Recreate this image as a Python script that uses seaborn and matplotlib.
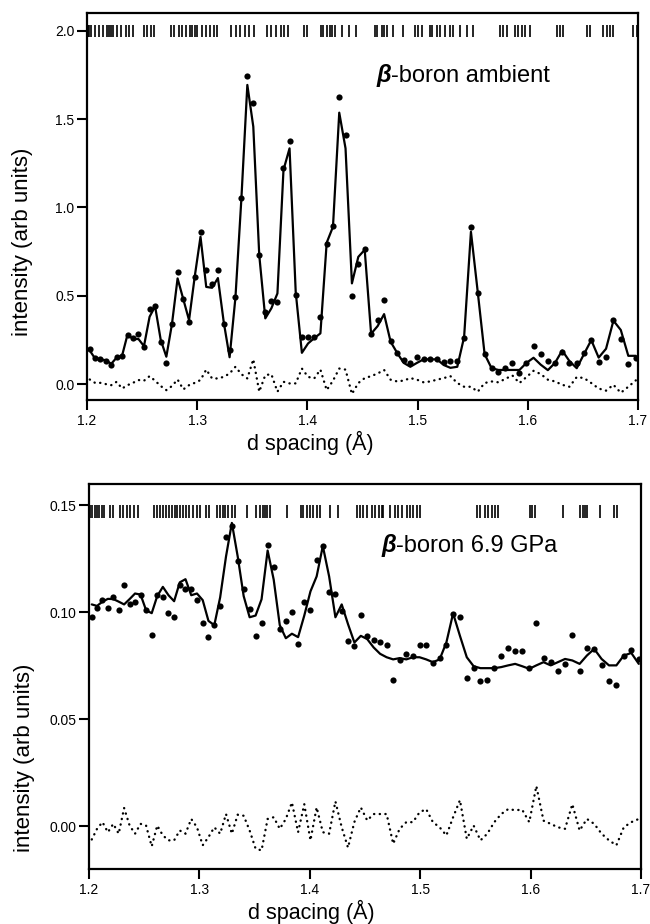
import numpy as np
import pandas as pd
import matplotlib
matplotlib.use("Agg")
import matplotlib.pyplot as plt
import seaborn as sns

# d spacing of the data channels (TOF grid, constant dd/d)
d_spacing = [1.2025, 1.2073, 1.2122, 1.2171, 1.2220, 1.2269, 1.2318, 1.2368, 1.2417, 1.2467,
             1.2517, 1.2568, 1.2618, 1.2669, 1.2720, 1.2771, 1.2822, 1.2874, 1.2926, 1.2978,
             1.3030, 1.3082, 1.3135, 1.3188, 1.3241, 1.3294, 1.3347, 1.3401, 1.3455, 1.3509,
             1.3563, 1.3618, 1.3673, 1.3728, 1.3783, 1.3838, 1.3894, 1.3950, 1.4006, 1.4062,
             1.4118, 1.4175, 1.4232, 1.4289, 1.4346, 1.4404, 1.4462, 1.4520, 1.4578, 1.4637,
             1.4696, 1.4755, 1.4814, 1.4874, 1.4934, 1.4994, 1.5054, 1.5115, 1.5176, 1.5237,
             1.5298, 1.5360, 1.5422, 1.5484, 1.5546, 1.5608, 1.5671, 1.5734, 1.5797, 1.5860,
             1.5924, 1.5988, 1.6052, 1.6117, 1.6182, 1.6247, 1.6312, 1.6378, 1.6444, 1.6510,
             1.6576, 1.6643, 1.6710, 1.6777, 1.6844, 1.6912, 1.6980]

# ambient pressure: observed, calculated, difference
obs_ambient = [0.198, 0.145, 0.140, 0.132, 0.108, 0.151, 0.159, 0.277, 0.259, 0.281,
               0.211, 0.423, 0.442, 0.240, 0.121, 0.340, 0.632, 0.480, 0.353, 0.608,
               0.862, 0.646, 0.566, 0.646, 0.340, 0.193, 0.494, 1.051, 1.744, 1.591,
               0.732, 0.410, 0.472, 0.466, 1.225, 1.376, 0.502, 0.268, 0.268, 0.268,
               0.378, 0.795, 0.896, 1.627, 1.412, 0.500, 0.680, 0.767, 0.284, 0.362,
               0.476, 0.243, 0.174, 0.136, 0.121, 0.151, 0.140, 0.142, 0.142, 0.125,
               0.129, 0.130, 0.259, 0.887, 0.513, 0.168, 0.092, 0.070, 0.092, 0.121,
               0.064, 0.117, 0.217, 0.170, 0.130, 0.121, 0.183, 0.121, 0.121, 0.174,
               0.249, 0.126, 0.155, 0.360, 0.253, 0.113, 0.149]
calc_ambient = [0.190, 0.145, 0.140, 0.135, 0.115, 0.150, 0.160, 0.281, 0.255, 0.255,
                0.215, 0.381, 0.440, 0.250, 0.155, 0.340, 0.598, 0.480, 0.362, 0.610,
                0.834, 0.550, 0.545, 0.600, 0.350, 0.152, 0.490, 1.050, 1.693, 1.457,
                0.730, 0.372, 0.429, 0.513, 1.212, 1.334, 0.520, 0.177, 0.230, 0.260,
                0.287, 0.800, 0.890, 1.536, 1.334, 0.570, 0.720, 0.760, 0.285, 0.328,
                0.396, 0.240, 0.177, 0.120, 0.098, 0.120, 0.140, 0.140, 0.140, 0.108,
                0.092, 0.098, 0.266, 0.862, 0.520, 0.170, 0.090, 0.080, 0.080, 0.080,
                0.080, 0.120, 0.149, 0.110, 0.079, 0.120, 0.190, 0.130, 0.090, 0.170,
                0.249, 0.150, 0.200, 0.359, 0.306, 0.160, 0.160]
diff_ambient = [0.026, 0.007, 0.007, 0.000, -0.006, 0.013, -0.025, -0.006, 0.007, 0.023,
                0.019, 0.045, 0.019, -0.011, -0.034, -0.011, 0.026, -0.030, -0.006, 0.007,
                0.023, 0.082, 0.032, 0.032, 0.041, 0.060, 0.098, 0.056, 0.032, 0.140,
                -0.043, 0.051, 0.056, -0.043, 0.013, 0.004, 0.004, 0.088, 0.041, 0.032,
                0.082, -0.034, 0.019, 0.088, 0.082, -0.056, 0.006, 0.034, 0.045, 0.060,
                0.080, 0.025, 0.015, 0.020, 0.034, 0.025, 0.010, 0.015, 0.025, 0.034,
                0.045, 0.006, -0.015, -0.015, -0.043, 0.006, 0.015, 0.010, 0.030, 0.049,
                0.006, 0.040, 0.075, 0.057, 0.025, 0.015, -0.004, -0.015, 0.040, 0.034,
                0.006, -0.025, -0.037, -0.004, -0.049, -0.015, 0.021]
refl_ambient = [1.2005, 1.2020, 1.2039, 1.2073, 1.2109, 1.2148, 1.2179, 1.2200, 1.2215, 1.2233,
                1.2275, 1.2306, 1.2351, 1.2381, 1.2420, 1.2517, 1.2541, 1.2578, 1.2608, 1.2765,
                1.2789, 1.2835, 1.2865, 1.2896, 1.2935, 1.2956, 1.2977, 1.3001, 1.3046, 1.3077,
                1.3116, 1.3152, 1.3182, 1.3304, 1.3349, 1.3388, 1.3431, 1.3470, 1.3515, 1.3631,
                1.3667, 1.3712, 1.3758, 1.3788, 1.3824, 1.3969, 1.3994, 1.4121, 1.4144, 1.4175,
                1.4205, 1.4226, 1.4248, 1.4317, 1.4378, 1.4438, 1.4613, 1.4634, 1.4674, 1.4695,
                1.4720, 1.4780, 1.4870, 1.4976, 1.5006, 1.5037, 1.5113, 1.5128, 1.5179, 1.5203,
                1.5249, 1.5294, 1.5324, 1.5385, 1.5446, 1.5506, 1.5748, 1.5778, 1.5808, 1.5884,
                1.5914, 1.5945, 1.5975, 1.6020, 1.6262, 1.6292, 1.6322, 1.6534, 1.6564, 1.6685,
                1.6716, 1.6746, 1.6776, 1.6957, 1.6988]

# 6.9 GPa: observed, calculated, difference
obs_69gpa = [0.0980, 0.1020, 0.1060, 0.1020, 0.1070, 0.1010, 0.1130, 0.1040, 0.1050, 0.1080,
             0.1010, 0.0895, 0.1080, 0.1070, 0.0995, 0.0978, 0.1130, 0.1110, 0.1110, 0.1060,
             0.0949, 0.0887, 0.0940, 0.1030, 0.1350, 0.1405, 0.1240, 0.1110, 0.1017, 0.0890,
             0.0950, 0.1315, 0.1210, 0.0924, 0.0960, 0.1000, 0.0850, 0.1050, 0.1010, 0.1245,
             0.1310, 0.1097, 0.1086, 0.1006, 0.0864, 0.0844, 0.0988, 0.0890, 0.0872, 0.0860,
             0.0849, 0.0682, 0.0775, 0.0806, 0.0795, 0.0849, 0.0849, 0.0762, 0.0786, 0.0849,
             0.0990, 0.0978, 0.0693, 0.0740, 0.0679, 0.0685, 0.0739, 0.0798, 0.0833, 0.0821,
             0.0821, 0.0738, 0.0952, 0.0786, 0.0770, 0.0728, 0.0759, 0.0895, 0.0728, 0.0833,
             0.0829, 0.0752, 0.0677, 0.0659, 0.0795, 0.0824, 0.0782]
calc_69gpa = [0.1037, 0.1030, 0.1050, 0.1063, 0.1062, 0.1050, 0.1037, 0.1062, 0.1088, 0.1083,
              0.1010, 0.0996, 0.1076, 0.1119, 0.1080, 0.1052, 0.1140, 0.1155, 0.1080, 0.1088,
              0.1057, 0.0960, 0.0940, 0.1070, 0.1261, 0.1418, 0.1261, 0.1076, 0.0977, 0.0985,
              0.1061, 0.1289, 0.1153, 0.0940, 0.0879, 0.0900, 0.0884, 0.0985, 0.1098, 0.1168,
              0.1310, 0.1168, 0.0977, 0.1037, 0.0945, 0.0859, 0.0890, 0.0875, 0.0836, 0.0806,
              0.0790, 0.0780, 0.0786, 0.0780, 0.0790, 0.0790, 0.0780, 0.0767, 0.0780, 0.0859,
              0.0995, 0.0890, 0.0790, 0.0748, 0.0739, 0.0739, 0.0739, 0.0744, 0.0752, 0.0759,
              0.0748, 0.0736, 0.0752, 0.0767, 0.0752, 0.0767, 0.0782, 0.0775, 0.0759, 0.0798,
              0.0829, 0.0782, 0.0752, 0.0752, 0.0798, 0.0810, 0.0759]
diff_69gpa = [-0.0062, -0.0012, 0.0019, -0.0028, 0.0011, -0.0035, 0.0085, 0.0003, -0.0035, 0.0011,
              0.0003, -0.0094, 0.0003, -0.0043, -0.0066, -0.0066, -0.0020, -0.0035, 0.0034, -0.0005,
              -0.0089, -0.0051, -0.0005, -0.0035, 0.0057, -0.0035, 0.0054, 0.0049, -0.0020, -0.0105,
              -0.0113, 0.0034, 0.0042, -0.0012, 0.0034, 0.0111, -0.0028, 0.0103, -0.0066, 0.0088,
              -0.0028, -0.0035, 0.0116, -0.0005, -0.0100, 0.0020, 0.0088, 0.0027, 0.0057, 0.0057,
              0.0057, -0.0082, -0.0012, 0.0019, 0.0019, 0.0065, 0.0080, 0.0019, -0.0005, -0.0043,
              0.0042, 0.0122, -0.0059, 0.0003, -0.0066, -0.0035, 0.0019, 0.0057, 0.0080, 0.0075,
              0.0077, 0.0019, 0.0188, 0.0026, 0.0011, -0.0005, -0.0012, 0.0103, -0.0020, 0.0034,
              0.0011, -0.0035, -0.0066, -0.0089, -0.0005, 0.0019, 0.0034]
refl_69gpa = [1.2009, 1.2030, 1.2054, 1.2075, 1.2094, 1.2115, 1.2139, 1.2190, 1.2220, 1.2281,
              1.2311, 1.2341, 1.2371, 1.2408, 1.2447, 1.2592, 1.2619, 1.2643, 1.2673, 1.2697,
              1.2728, 1.2752, 1.2776, 1.2800, 1.2824, 1.2848, 1.2879, 1.2909, 1.2939, 1.2975,
              1.3005, 1.3057, 1.3087, 1.3162, 1.3187, 1.3211, 1.3235, 1.3259, 1.3292, 1.3322,
              1.3434, 1.3513, 1.3549, 1.3573, 1.3594, 1.3615, 1.3639, 1.3790, 1.3917, 1.3941,
              1.3972, 1.4002, 1.4032, 1.4062, 1.4092, 1.4183, 1.4258, 1.4425, 1.4455, 1.4485,
              1.4515, 1.4561, 1.4591, 1.4630, 1.4651, 1.4666, 1.4726, 1.4772, 1.4802, 1.4832,
              1.4878, 1.4908, 1.4938, 1.4968, 1.4998, 1.5512, 1.5542, 1.5587, 1.5617, 1.5647,
              1.5678, 1.5708, 1.5995, 1.6016, 1.6040, 1.6297, 1.6448, 1.6472, 1.6493, 1.6514,
              1.6630, 1.6751, 1.6780]

xticks = [1.2, 1.3, 1.4, 1.5, 1.6, 1.7]
yticks_ambient = [0.0, 0.5, 1.0, 1.5, 2.0]
yticks_69gpa = [0.00, 0.05, 0.10, 0.15]

sns.set_style("ticks")
plt.rcParams['font.family'] = ['Liberation Sans', 'DejaVu Sans']
for key in ['text.color', 'axes.labelcolor', 'xtick.color', 'ytick.color', 'axes.edgecolor']:
    plt.rcParams[key] = 'black'
plt.rcParams['axes.linewidth'] = 1.6

AXLABEL_FS = 15.5
NAME_FS = 17


def draw_panel(ax, obs, calc, diff, refl, refl_span, ylim, yticks, yfmt, label_pos, label_rest):
    df = pd.DataFrame({'d': d_spacing, 'obs': obs, 'calc': calc, 'diff': diff})
    sns.lineplot(data=df, x='d', y='calc', color='black', lw=1.6, ax=ax)
    sns.lineplot(data=df, x='d', y='diff', color='black', lw=1.7,
                 linestyle=(0, (0.1, 2.3)), dash_capstyle='round', ax=ax)
    sns.scatterplot(data=df, x='d', y='obs', color='black', s=20, linewidth=0, ax=ax, zorder=3)
    ax.vlines(refl, refl_span[0], refl_span[1], color='black', lw=1.2)

    ax.set_xlim(1.2, 1.7)
    ax.set_ylim(*ylim)
    ax.set_xticks(xticks)
    ax.set_xticklabels([f'{t:.1f}' for t in xticks])
    ax.set_yticks(yticks)
    ax.set_yticklabels([yfmt.format(t) for t in yticks])
    ax.tick_params(axis='both', direction='out', length=7.5, width=1.5, labelsize=10,
                   color='black', labelcolor='black')
    ax.tick_params(axis='y', pad=1.5)
    ax.tick_params(axis='x', pad=2.5)
    for s in ax.spines.values():
        s.set_visible(True)
        s.set_color('black')
        s.set_linewidth(1.6)

    ax.set_xlabel('d spacing (Å)', fontsize=AXLABEL_FS)
    ax.set_ylabel('intensity (arb units)', fontsize=AXLABEL_FS + 0.5)

    beta = ax.text(label_pos[0], label_pos[1], 'β', fontsize=NAME_FS,
                   fontweight='bold', fontstyle='italic', va='baseline')
    ax.annotate(label_rest, xy=(1, 0), xycoords=beta, fontsize=NAME_FS,
                va='bottom', ha='left')


fig = plt.figure(figsize=(6.5, 9.24), dpi=100)
ax1 = fig.add_axes([87 / 650, 1 - 400 / 924, 551 / 650, 387 / 924])
ax2 = fig.add_axes([89 / 650, 1 - 869 / 924, 552 / 650, 385 / 924])

draw_panel(ax1, obs_ambient, calc_ambient, diff_ambient, refl_ambient, (1.967, 2.033),
           (-0.09, 2.10), yticks_ambient, '{:.1f}', (1.4629, 1.711), '-boron ambient')
draw_panel(ax2, obs_69gpa, calc_69gpa, diff_69gpa, refl_69gpa, (0.1443, 0.1500),
           (-0.02, 0.16), yticks_69gpa, '{:.2f}', (1.4651, 0.1284), '-boron 6.9 GPa')

ax1.xaxis.set_label_coords(0.406, -0.080)
ax1.yaxis.set_label_coords(-0.098, 0.41)
ax2.xaxis.set_label_coords(0.402, -0.080)
ax2.yaxis.set_label_coords(-0.098, 0.29)

fig.savefig('out.png', dpi=100)
